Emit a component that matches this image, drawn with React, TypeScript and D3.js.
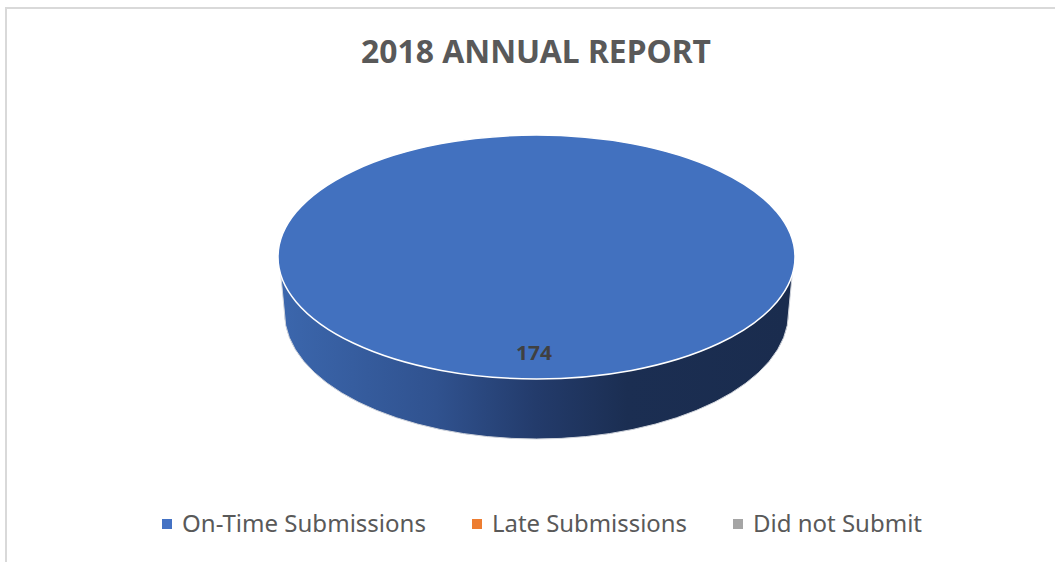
import React from "react";
import * as d3 from "d3";

const categories = ["On-Time Submissions", "Late Submissions", "Did not Submit"];
const values = [174, 0, 0];
const colors = ["#4472C4", "#ED7D31", "#A5A5A5"];
const topColors = ["#4271BF", "#ED7D31", "#A5A5A5"];
const titleText = "2018 ANNUAL REPORT";

const W = 1055, H = 562;
const cx = 536.5, cy = 257, rx = 258.5, ry = 122;
const bx = 252, by = 126, bcy = 313;
const legendX = [162, 472, 733];
const FONT = "'Noto Sans', 'Open Sans', sans-serif";

export default function App() {
  const slices = d3.pie<number>().sort(null)(values);
  const arc = d3.arc<d3.PieArcDatum<number>>().innerRadius(0).outerRadius(rx);
  const sideStartY = cy + 18;
  const frac = Math.sqrt(1 - ((sideStartY - cy) / ry) ** 2);
  const sx0 = cx - rx * frac, sx1 = cx + rx * frac;
  const p = d3.path();
  p.moveTo(sx0, sideStartY);
  p.lineTo(cx - bx, bcy);
  const q = `A${bx},${by} 0 0 0 ${cx + bx},${bcy}`;
  const side = `${p.toString()}${q}L${sx1},${sideStartY}Z`;
  return (
    <svg width={W} height={H} viewBox={`0 0 ${W} ${H}`} style={{ position: "absolute", left: 0, top: 0, background: "#fff" }}>
      <defs>
        <linearGradient id="side" gradientUnits="userSpaceOnUse" x1={cx - bx} x2={cx + bx} y1={0} y2={0}>
          <stop offset="0" stopColor="#3B66AC" />
          <stop offset="0.3" stopColor="#30528F" />
          <stop offset="0.5" stopColor="#233B6B" />
          <stop offset="0.68" stopColor="#1B2E52" />
          <stop offset="1" stopColor="#1A2C4E" />
        </linearGradient>
      </defs>
      <path d={`M6,${H}V8H${W}`} fill="none" stroke="#D9D9D9" strokeWidth={2} />
      <text x={536} y={63} textAnchor="middle" fontFamily={FONT} fontWeight={700} fontSize={32.5} fill="#595959" textLength={350} lengthAdjust="spacingAndGlyphs">{titleText}</text>
      <path d={side} fill="url(#side)" stroke="#D0D4DC" strokeWidth={1} />
      <g transform={`translate(${cx},${cy}) scale(1,${ry / rx})`}>
        {slices.map((s, i) => s.value > 0 && (
          <path key={i} d={arc(s) as string} fill={topColors[i]} stroke="#fff" strokeWidth={1.5} vectorEffect="non-scaling-stroke" />
        ))}
      </g>
      <text x={534} y={360} textAnchor="middle" fontFamily={FONT} fontWeight={700} fontSize={20} fill="#404040" textLength={36} lengthAdjust="spacingAndGlyphs">{values[0]}</text>
      {categories.map((c, i) => (
        <g key={c}>
          <rect x={legendX[i]} y={519} width={10} height={10} fill={colors[i]} />
          <text x={legendX[i] + 20} y={532} fontFamily={FONT} fontSize={24} fill="#595959"
            textLength={[244, 195, 169][i]} lengthAdjust="spacingAndGlyphs">{c}</text>
        </g>
      ))}
    </svg>
  );
}
